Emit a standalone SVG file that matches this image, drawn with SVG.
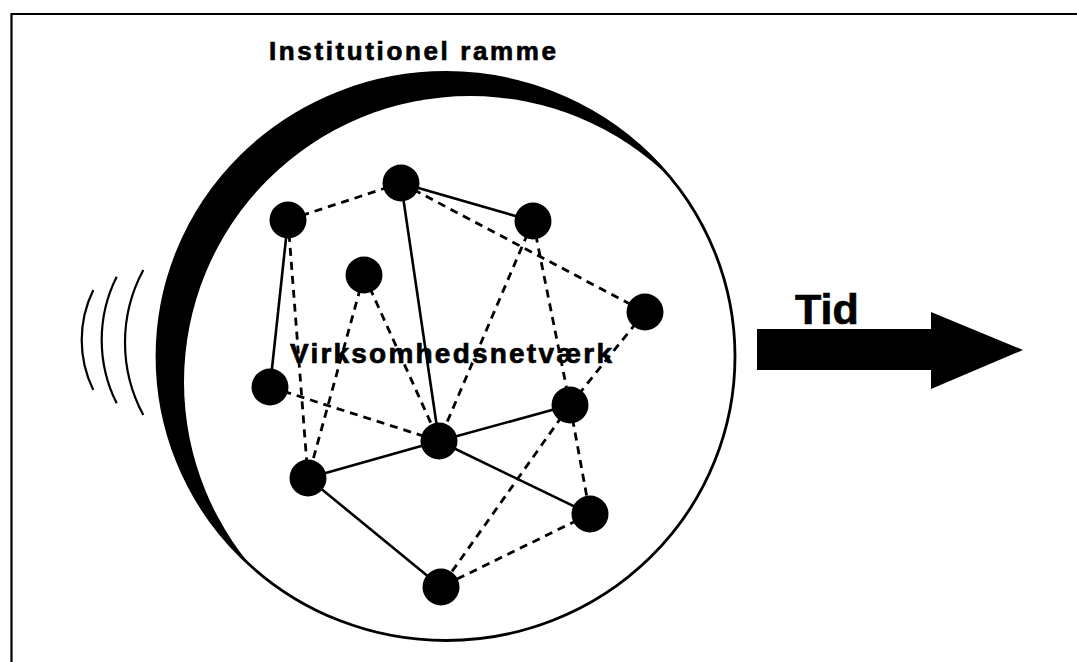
<svg xmlns="http://www.w3.org/2000/svg" width="1077" height="662" viewBox="0 0 1077 662">
  <style>
    .solid { stroke: #000; stroke-width: 2.6; fill: none; stroke-linecap: round; }
    .dash { stroke: #000; stroke-width: 2.8; fill: none; stroke-dasharray: 8 6; }
    .node { fill: #000; }
    .lbl { font-family: "Liberation Sans", Arial, sans-serif; font-weight: bold; fill: #000; stroke: #000; stroke-width: 0.7; }
    .wave { stroke: #000; stroke-width: 2.2; fill: none; }
  </style>
  <defs>
    <mask id="cres">
      <rect x="0" y="0" width="1077" height="662" fill="white"/>
      <circle cx="470" cy="382" r="286" fill="black"/>
    </mask>
  </defs>
  <rect x="0" y="0" width="1077" height="662" fill="#fff"/>

  <!-- frame -->
  <g id="frame">
    <path d="M11.5 662 V14 H1077" fill="none" stroke="#000" stroke-width="2.2"/>
  </g>

  <!-- institutional frame circle -->
  <g id="ramme">
    <ellipse cx="446" cy="356.5" rx="289" ry="284" fill="#000" mask="url(#cres)"/>
    <ellipse cx="446" cy="356.5" rx="289" ry="284" fill="none" stroke="#000" stroke-width="2.8"/>
    <text class="lbl" x="269" y="60" font-size="26" textLength="287" lengthAdjust="spacing">Institutionel ramme</text>
  </g>

  <!-- waves -->
  <g id="waves">
    <path class="wave" d="M93.3 290 A113.6 113.6 0 0 0 93.3 390"/>
    <path class="wave" d="M116.7 276.7 A141 141 0 0 0 116.7 403.3"/>
    <path class="wave" d="M143.3 270 A152.8 152.8 0 0 0 143.3 415"/>
  </g>

  <!-- connectors -->
  <g id="connectors">
    <line class="solid" x1="288" y1="220" x2="270" y2="387"/>
    <line class="solid" x1="401" y1="183" x2="533" y2="221"/>
    <line class="solid" x1="401" y1="183" x2="439" y2="441"/>
    <line class="solid" x1="439" y1="441" x2="308" y2="478"/>
    <line class="solid" x1="439" y1="441" x2="570" y2="405"/>
    <line class="solid" x1="439" y1="441" x2="590" y2="514"/>
    <line class="solid" x1="308" y1="478" x2="441" y2="587"/>

    <line class="dash" x1="288" y1="220" x2="401" y2="183"/>
    <line class="dash" x1="401" y1="183" x2="645" y2="312"/>
    <line class="dash" x1="288" y1="220" x2="308" y2="478"/>
    <line class="dash" x1="364" y1="275" x2="308" y2="478"/>
    <line class="dash" x1="364" y1="275" x2="439" y2="441"/>
    <line class="dash" x1="270" y1="387" x2="439" y2="441"/>
    <line class="dash" x1="533" y1="221" x2="439" y2="441"/>
    <line class="dash" x1="533" y1="221" x2="570" y2="405"/>
    <line class="dash" x1="645" y1="312" x2="570" y2="405"/>
    <line class="dash" x1="570" y1="405" x2="441" y2="587"/>
    <line class="dash" x1="570" y1="405" x2="590" y2="514"/>
    <line class="dash" x1="590" y1="514" x2="441" y2="587"/>
  </g>

  <text class="lbl" x="290" y="363" font-size="28" textLength="322" lengthAdjust="spacing">Virksomhedsnetværk</text>

  <!-- nodes -->
  <g id="nodeA"><circle class="node" cx="288" cy="220" r="18.5"/></g>
  <g id="nodeB"><circle class="node" cx="401" cy="183" r="18.5"/></g>
  <g id="nodeC"><circle class="node" cx="533" cy="221" r="18.5"/></g>
  <g id="nodeD"><circle class="node" cx="364" cy="275" r="18.5"/></g>
  <g id="nodeE"><circle class="node" cx="645" cy="312" r="18.5"/></g>
  <g id="nodeF"><circle class="node" cx="270" cy="387" r="18.5"/></g>
  <g id="nodeG"><circle class="node" cx="570" cy="405" r="18.5"/></g>
  <g id="nodeH"><circle class="node" cx="439" cy="441" r="18.5"/></g>
  <g id="nodeI"><circle class="node" cx="308" cy="478" r="18.5"/></g>
  <g id="nodeJ"><circle class="node" cx="590" cy="514" r="18.5"/></g>
  <g id="nodeK"><circle class="node" cx="441" cy="587" r="18.5"/></g>

  <!-- time arrow -->
  <g id="tid">
    <polygon points="757,329 931,329 931,312 1023,350 931,389 931,370 757,370" fill="#000"/>
    <text class="lbl" x="795" y="324" font-size="43" stroke-width="0.5">Tid</text>
  </g>
</svg>
